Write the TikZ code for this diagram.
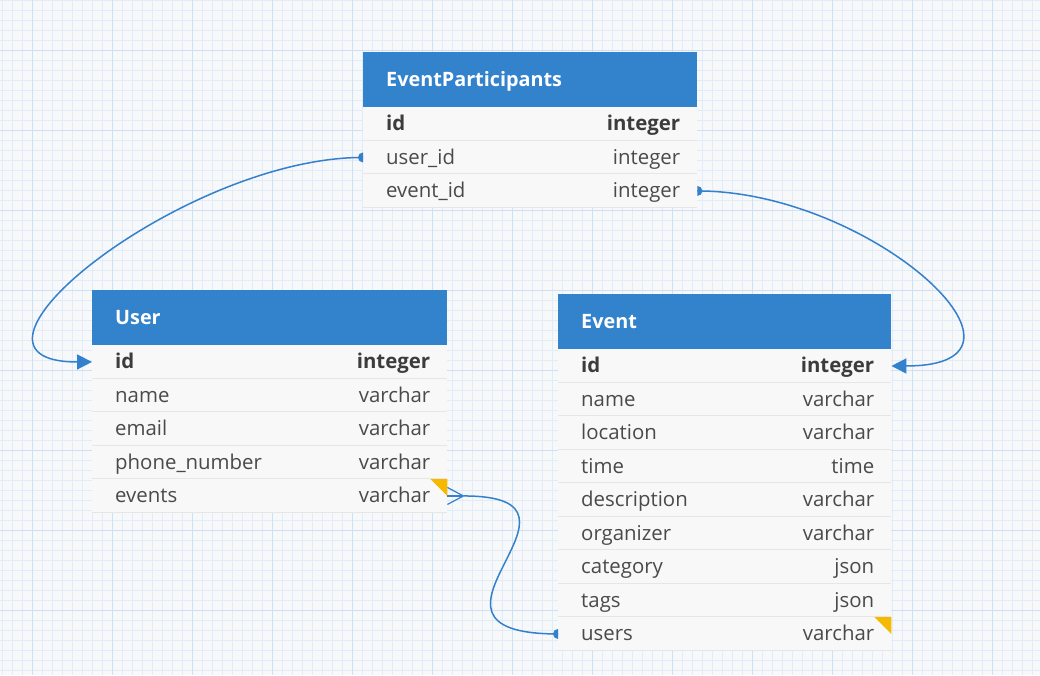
\documentclass[tikz,border=0pt]{standalone}
\usepackage{fontspec}
\setmainfont{Open Sans}
\usetikzlibrary{calc,arrows.meta}
\definecolor{bgc}{HTML}{F7F8FA}
\definecolor{gridminor}{HTML}{E2EBF8}
\definecolor{gridmajor}{HTML}{CFDFF5}
\definecolor{hdrblue}{HTML}{3382CC}
\definecolor{rowbg}{HTML}{F8F8F8}
\definecolor{sepc}{HTML}{E6E6E6}
\definecolor{txt}{HTML}{4A4A4A}
\definecolor{txtb}{HTML}{3C3C3C}
\definecolor{connc}{HTML}{3380CC}
\definecolor{ynote}{HTML}{F5B900}
\newcommand\dbrow[6]{%
  \node[rowbox, minimum width=#4pt] (#1) at (#2,#3) {};
  \draw[sepline] ($(#1.south west)+(0pt,0.5pt)$) -- ($(#1.south east)+(0pt,0.5pt)$);
  \node[lbl] (#1-l) at ($(#1.west)+(23pt,-7pt)$) {#5};
  \node[typ] (#1-r) at ($(#1.east)+(-17pt,-7pt)$) {#6};
}
\newcommand\dbhead[5]{%
  \node[hdr, minimum width=#4pt] (#1) at (#2,#3) {};
  \node[ttl] (#1-t) at ($(#1.west)+(23pt,-6.5pt)$) {#5};
}
\tikzset{
  hdr/.style={fill=hdrblue, draw=none, minimum height=55pt, inner sep=0pt, anchor=north west},
  rowbox/.style={fill=rowbg, draw=none, minimum height=33.5pt, inner sep=0pt, anchor=north west},
  sepline/.style={draw=sepc, line width=1pt},
  lbl/.style={anchor=base west, inner sep=0pt, text=txt, font=\fontsize{20.4pt}{24pt}\selectfont},
  typ/.style={anchor=base east, inner sep=0pt, text=txt, font=\fontsize{20.4pt}{24pt}\selectfont},
  ttl/.style={anchor=base west, inner sep=0pt, text=white, font=\fontsize{19.8pt}{24pt}\selectfont\bfseries},
  conn/.style={draw=connc, line width=1.5pt},
  crow/.style={draw=connc, line width=1.2pt},
  minorln/.style={draw=gridminor, line width=0.7pt},
  majorln/.style={draw=gridmajor, line width=1pt},
}
\newcommand\pk[1]{\textcolor{txtb}{\bfseries #1}}
\begin{document}
\begin{tikzpicture}[x=1pt,y=-1pt]
\useasboundingbox (0,0) rectangle (1040,675);
\fill[bgc] (0,0) rectangle (1040,675);
% grid
\foreach \i in {0,...,103} \draw[minorln] (2.7+10*\i,0) -- (2.7+10*\i,675);
\foreach \i in {0,...,67} \draw[minorln] (0,0.7+10*\i) -- (1040,0.7+10*\i);
\foreach \i in {0,...,12} \draw[majorln] (32.7+80*\i,0) -- (32.7+80*\i,675);
\foreach \i in {0,...,7} \draw[majorln] (0,50.7+80*\i) -- (1040,50.7+80*\i);

% EventParticipants
\dbhead{ep}{363}{52}{334}{EventParticipants}
\dbrow{ep1}{363}{107}{334}{\pk{id}}{\pk{integer}}
\dbrow{ep2}{363}{140.5}{334}{user\_id}{integer}
\dbrow{ep3}{363}{174}{334}{event\_id}{integer}

% User
\dbhead{us}{92}{290}{355}{User}
\dbrow{us1}{92}{345}{355}{\pk{id}}{\pk{integer}}
\dbrow{us2}{92}{378.5}{355}{name}{varchar}
\dbrow{us3}{92}{412}{355}{email}{varchar}
\dbrow{us4}{92}{445.5}{355}{phone\_number}{varchar}
\dbrow{us5}{92}{479}{355}{events}{varchar}

% Event
\dbhead{ev}{558}{294}{333}{Event}
\dbrow{ev1}{558}{349}{333}{\pk{id}}{\pk{integer}}
\dbrow{ev2}{558}{382.5}{333}{name}{varchar}
\dbrow{ev3}{558}{416}{333}{location}{varchar}
\dbrow{ev4}{558}{449.5}{333}{time}{time}
\dbrow{ev5}{558}{483}{333}{description}{varchar}
\dbrow{ev6}{558}{516.5}{333}{organizer}{varchar}
\dbrow{ev7}{558}{550}{333}{category}{json}
\dbrow{ev8}{558}{583.5}{333}{tags}{json}
\dbrow{ev9}{558}{617}{333}{users}{varchar}

% note markers
\fill[ynote] (us5.north east) -- ++(-17pt,0pt) -- ++(17pt,-17pt) -- cycle;
\fill[ynote] (ev9.north east) -- ++(-17pt,0pt) -- ++(17pt,-17pt) -- cycle;

% connector: user_id -> User.id
\draw[conn, -{Triangle[length=15pt,width=15pt]}] (ep2.west) .. controls (184,157.25) and (-72,362) .. (us1.west);
\fill[connc] ($(ep2.west)+(0pt,5pt)$) arc[start angle=90, end angle=270, radius=5pt] -- cycle;

% connector: event_id -> Event.id
\draw[conn, -{Triangle[length=15pt,width=15pt]}] (ep3.east) .. controls (872,190.75) and (1062,366) .. (ev1.east);
\fill[connc] ($(ep3.east)+(0pt,5pt)$) arc[start angle=90, end angle=-90, radius=5pt] -- cycle;

% connector: User.events >-- Event.users
\coordinate (cf) at ($(us5.east)+(16pt,0pt)$);
\draw[crow] (us5.east) -- (cf);
\draw[crow] ($(us5.east)+(0pt,8.5pt)$) -- (cf);
\draw[crow] ($(us5.east)+(0pt,-8.5pt)$) -- (cf);
\draw[conn] (cf) .. controls (618,495.75) and (385,633.75) .. (ev9.west);
\fill[connc] ($(ev9.west)+(0pt,5pt)$) arc[start angle=90, end angle=270, radius=5pt] -- cycle;
\end{tikzpicture}
\end{document}
